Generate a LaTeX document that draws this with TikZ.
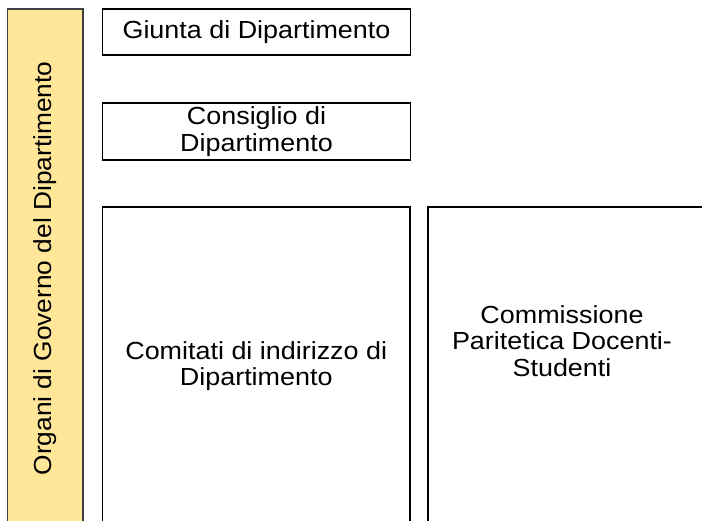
\documentclass[tikz,border=0pt]{standalone}
\usepackage{fontspec}
\setmainfont{Liberation Sans}[FakeStretch=1.09]
\newfontfamily\barsans{Liberation Sans}[FakeStretch=1.065]
\definecolor{barfill}{HTML}{FFE699}
\definecolor{bardraw}{HTML}{3F3F3F}
\begin{document}
\begin{tikzpicture}[x=1pt,y=-1pt,
  box/.style={draw=black,line width=1.1pt,fill=white,rectangle,inner sep=0pt},
  lbl/.style={font=\fontsize{24.7}{26.5}\selectfont,align=center,inner sep=0pt}]
\useasboundingbox (0,0) rectangle (702,520);
\clip (0,0) rectangle (702,520);
% side bar
\node[draw=bardraw,fill=barfill,line width=1.1pt,rectangle,inner sep=0pt,
  minimum width=75.5pt,minimum height=540pt] (bar) at (45.25,279) {};
\node[rotate=90,inner sep=0pt,font=\barsans\fontsize{24.7}{26.5}\selectfont] (bartext) at (45.5,268.5)
  {Organi di Governo del Dipartimento};
% boxes
\node[box,lbl,minimum width=308pt,minimum height=46pt] (giunta) at (256.5,32) {Giunta di Dipartimento};
\node[box,lbl,minimum width=308pt,minimum height=57pt] (consiglio) at (256.5,131.5) {Consiglio di\\Dipartimento};
\node[box,lbl,minimum width=307.5pt,minimum height=318pt] (comitati) at (256.25,366) {Comitati di indirizzo di\\Dipartimento};
\node[box,minimum width=300pt,minimum height=330pt] (commbox) at (578,372) {};
\node[lbl] (commtext) at (562,341) {Commissione\\Paritetica Docenti-\\Studenti};
\end{tikzpicture}
\end{document}
